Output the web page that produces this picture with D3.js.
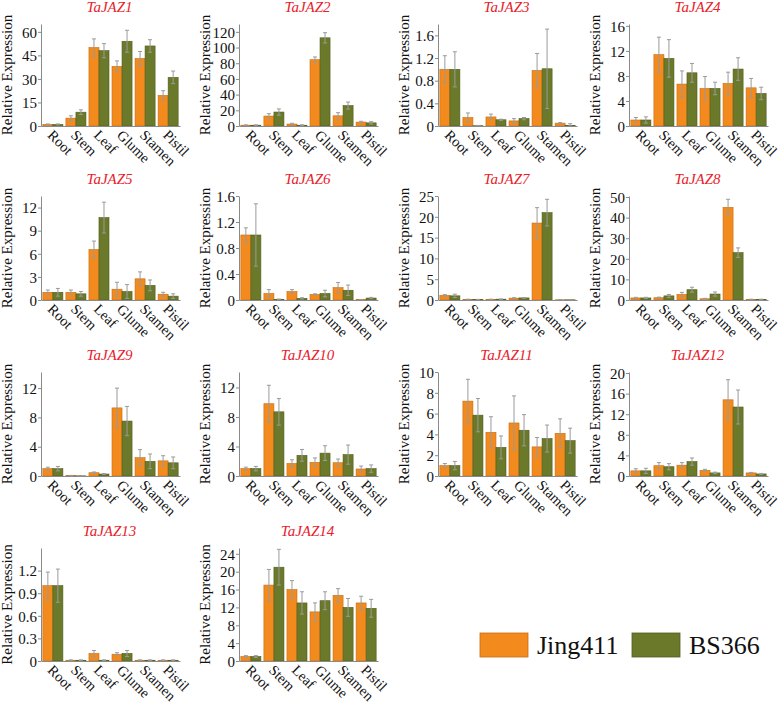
<!DOCTYPE html>
<html>
<head>
<meta charset="utf-8">
<script src="https://cdn.jsdelivr.net/npm/d3@7"></script>
<style>
  body { margin: 0; background: #fff; }
  svg { display: block; }
</style>
</head>
<body>
<svg id="chart" width="778" height="705" font-family="&quot;Liberation Serif&quot;"></svg>
<script>
// ---------------- DATA ----------------
const categories = ["Root", "Stem", "Leaf", "Glume", "Stamen", "Pistil"];
const genes = ["TaJAZ1","TaJAZ2","TaJAZ3","TaJAZ4","TaJAZ5","TaJAZ6","TaJAZ7",
               "TaJAZ8","TaJAZ9","TaJAZ10","TaJAZ11","TaJAZ12","TaJAZ13","TaJAZ14"];
const seriesNames = ["Jing411", "BS366"];

const jing411 = [
  [1.0, 5.0, 50, 38, 43, 19.5],
  [1.0, 12.7, 2.5, 84.5, 13, 5],
  [1.0, 0.15, 0.16, 0.09, 0.98, 0.05],
  [0.96, 11.4, 6.7, 6.0, 6.8, 6.1],
  [1.0, 1.0, 6.55, 1.4, 2.75, 0.75],
  [1.0, 0.1, 0.13, 0.085, 0.19, 0.005],
  [1.1, 0.15, 0.15, 0.45, 18.5, 0.05],
  [1.0, 1.1, 2.7, 0.6, 45, 0.3],
  [1.0, 0.05, 0.45, 9.3, 2.5, 2.07],
  [1.0, 9.8, 1.7, 1.85, 1.8, 0.95],
  [1.0, 7.2, 4.2, 5.1, 2.8, 4.1],
  [1.0, 2.0, 2.1, 1.1, 14.8, 0.6],
  [1.0, 0.01, 0.1, 0.09, 0.01, 0.01],
  [1.0, 17, 16, 11, 14.7, 13]
];
const jing411Err = [
  [0.3, 1.5, 5.5, 3.5, 4.5, 3],
  [0.5, 3, 1, 3.5, 4, 1],
  [0.24, 0.08, 0.05, 0.04, 0.3, 0.01],
  [0.4, 2.8, 2.1, 1.9, 1.8, 1.5],
  [0.3, 0.3, 1.1, 0.9, 0.9, 0.25],
  [0.11, 0.06, 0.03, 0.01, 0.08, 0.003],
  [0.2, 0.05, 0.05, 0.1, 3.7, 0.02],
  [0.3, 0.3, 1.0, 0.2, 3.9, 0.1],
  [0.2, 0.03, 0.1, 2.7, 1.1, 0.7],
  [0.2, 2.5, 0.5, 0.6, 0.5, 0.4],
  [0.2, 2.1, 1.5, 2.6, 0.9, 1.4],
  [0.4, 0.6, 0.5, 0.2, 3.9, 0.1],
  [0.18, 0.005, 0.04, 0.02, 0.005, 0.005],
  [0.2, 3.5, 2, 2, 1.5, 1.5]
];
const bs366 = [
  [1.0, 8.8, 48, 54, 51, 31],
  [1.0, 17.8, 1.0, 112.4, 26, 4],
  [1.0, 0.005, 0.11, 0.13, 1.01, 0.01],
  [0.96, 10.8, 8.5, 6.0, 9.1, 5.2],
  [1.0, 0.8, 10.7, 1.1, 1.9, 0.5],
  [1.0, 0.01, 0.025, 0.1, 0.15, 0.03],
  [1.0, 0.1, 0.2, 0.5, 21, 0.05],
  [1.0, 2.0, 5.0, 2.9, 23, 0.3],
  [1.0, 0.02, 0.27, 7.5, 2.0, 1.8],
  [1.0, 8.7, 2.8, 3.1, 2.9, 1.0],
  [1.0, 5.85, 2.75, 4.4, 3.6, 3.4],
  [1.0, 1.8, 2.8, 0.6, 13.4, 0.4],
  [1.0, 0.01, 0.01, 0.1, 0.01, 0.01],
  [1.0, 21, 13, 13.5, 12, 11.8]
];
const bs366Err = [
  [0.3, 1.5, 4.5, 7, 4, 4],
  [0.5, 4, 0.5, 6.5, 4.5, 1.5],
  [0.31, 0.005, 0.01, 0.02, 0.7, 0.03],
  [0.5, 3, 1.5, 1, 1.8, 1],
  [0.5, 0.3, 2, 0.9, 0.7, 0.3],
  [0.48, 0.005, 0.01, 0.05, 0.08, 0.01],
  [0.4, 0.05, 0.05, 0.1, 3.2, 0.02],
  [0.3, 0.7, 1.2, 1.0, 2.3, 0.1],
  [0.3, 0.01, 0.05, 2.0, 1.0, 0.8],
  [0.3, 1.8, 0.8, 1.0, 1.3, 0.5],
  [0.4, 1.6, 1.1, 1.5, 1.3, 1.2],
  [0.5, 0.6, 0.7, 0.15, 3.3, 0.1],
  [0.22, 0.005, 0.005, 0.04, 0.005, 0.005],
  [0.2, 4, 2.5, 2, 2, 2]
];
const yMax = [65, 130, 1.8, 16.3, 13.5, 1.6, 25, 50.5, 14.2, 14.1, 10, 20.2, 1.5, 25.3];
const yTicks = [
  [0, 15, 30, 45, 60],
  [0, 20, 40, 60, 80, 100, 120],
  [0, 0.4, 0.8, 1.2, 1.6],
  [0, 4, 8, 12, 16],
  [0, 3, 6, 9, 12],
  [0, 0.4, 0.8, 1.2, 1.6],
  [0, 5, 10, 15, 20, 25],
  [0, 10, 20, 30, 40, 50],
  [0, 4, 8, 12],
  [0, 4, 8, 12],
  [0, 2, 4, 6, 8, 10],
  [0, 4, 8, 12, 16, 20],
  [0, 0.3, 0.6, 0.9, 1.2],
  [0, 4, 8, 12, 16, 20, 24]
];

// ---------------- LAYOUT ----------------
const FONT = "\"Liberation Serif\"";
const colX = [41, 239, 438, 629];
const plotW = 139;
const rowBottom = [126, 300, 476, 661];
const rowTop = [24, 196, 372, 548];
const colors = ["#F28A1E", "#6B7A2A"];
const strokes = ["#C96C10", "#4F5C1C"];

const svg = d3.select("#chart");

genes.forEach((gene, gi) => {
  const r = Math.floor(gi / 4), c = gi % 4;
  const x0 = colX[c];
  const g = svg.append("g").attr("transform", `translate(${x0},0)`);

  const x = d3.scaleBand().domain(categories).range([0, plotW])
    .paddingInner(0.13).paddingOuter(0.08);
  const xs = d3.scaleBand().domain(seriesNames).range([0, x.bandwidth()]);
  const y = d3.scaleLinear().domain([0, yMax[gi]]).range([rowBottom[r], rowTop[r]]);

  const vals = [jing411[gi], bs366[gi]];
  const errs = [jing411Err[gi], bs366Err[gi]];

  seriesNames.forEach((s, si) => {
    g.selectAll(null).data(categories).enter().append("rect")
      .attr("x", d => x(d) + xs(s))
      .attr("y", (d, i) => y(vals[si][i]))
      .attr("width", xs.bandwidth())
      .attr("height", (d, i) => y(0) - y(vals[si][i]))
      .attr("fill", colors[si])
      .attr("stroke", strokes[si])
      .attr("stroke-width", 0.6);
  });

  seriesNames.forEach((s, si) => {
    const eg = g.selectAll(null).data(categories).enter().append("g")
      .attr("stroke", "#9a9a9a").attr("stroke-width", 1);
    const cx = d => x(d) + xs(s) + xs.bandwidth() / 2;
    const lo = (d, i) => y(Math.max(0, vals[si][i] - errs[si][i]));
    const hi = (d, i) => y(vals[si][i] + errs[si][i]);
    eg.append("line").attr("x1", cx).attr("x2", cx).attr("y1", lo).attr("y2", hi);
    eg.append("line").attr("x1", d => cx(d) - 2).attr("x2", d => cx(d) + 2).attr("y1", hi).attr("y2", hi);
    eg.append("line").attr("x1", d => cx(d) - 2).attr("x2", d => cx(d) + 2).attr("y1", lo).attr("y2", lo);
  });

  const yAxis = g.append("g")
    .call(d3.axisLeft(y).tickValues(yTicks[gi]).tickSize(3).tickSizeOuter(0)
      .tickFormat(d3.format("~g")));
  yAxis.attr("font-family", FONT);
  yAxis.select(".domain").attr("stroke", "#8a8a8a");
  yAxis.selectAll(".tick line").attr("stroke", "#8a8a8a");
  yAxis.selectAll(".tick text")
    .attr("font-family", FONT)
    .attr("font-size", 15).attr("fill", "#111")
    .attr("x", -4).attr("dy", "0.35em");

  const xAxis = g.append("g").attr("transform", `translate(0,${rowBottom[r]})`)
    .call(d3.axisBottom(x).tickSize(0).tickSizeOuter(0));
  xAxis.attr("font-family", FONT);
  xAxis.select(".domain").attr("stroke", "#8a8a8a");
  xAxis.selectAll(".tick text")
    .attr("font-family", FONT)
    .attr("font-size", 14.5).attr("fill", "#111")
    .attr("text-anchor", "start")
    .attr("y", 0).attr("dy", 0)
    .attr("transform", "translate(-6,10) rotate(45)");

  g.append("text")
    .attr("transform", `translate(-29,${(rowTop[r] + rowBottom[r]) / 2}) rotate(-90)`)
    .attr("text-anchor", "middle")
    .attr("font-family", FONT)
    .attr("font-size", 15)
    .attr("fill", "#111")
    .text("Relative Expression");

  g.append("text")
    .attr("x", plotW / 2 - 1)
    .attr("y", rowTop[r] - 12)
    .attr("text-anchor", "middle")
    .attr("font-family", FONT)
    .attr("font-size", 15)
    .attr("font-style", "italic")
    .attr("fill", "#E8212B")
    .text(gene);
});

const legend = svg.append("g").attr("font-family", FONT);
const legendX = [480, 632];
seriesNames.forEach((s, i) => {
  legend.append("rect")
    .attr("x", legendX[i]).attr("y", 633)
    .attr("width", 48).attr("height", 24)
    .attr("fill", colors[i]).attr("stroke", strokes[i]).attr("stroke-width", 0.8);
  legend.append("text")
    .attr("x", legendX[i] + 57).attr("y", 654)
    .attr("font-family", FONT)
    .attr("font-size", 26).attr("fill", "#111")
    .text(s);
});
</script>
</body>
</html>
